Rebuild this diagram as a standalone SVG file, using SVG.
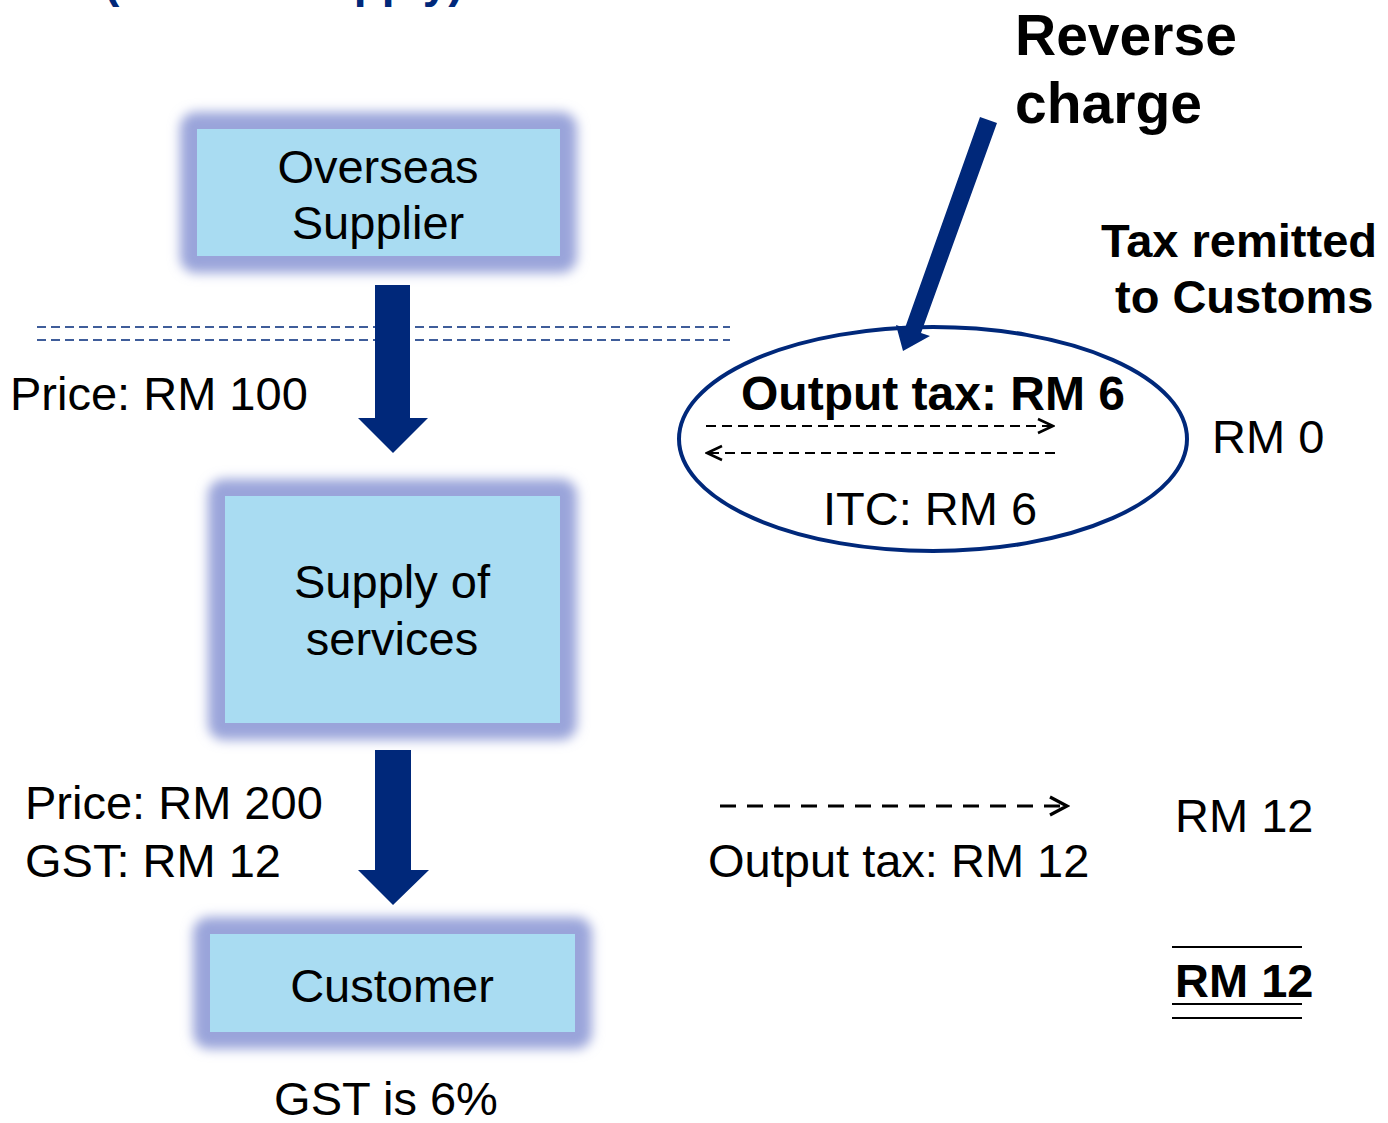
<svg xmlns="http://www.w3.org/2000/svg" width="1388" height="1123" viewBox="0 0 1388 1123">
<defs>
<filter id="glow" x="-20%" y="-20%" width="140%" height="140%"><feGaussianBlur stdDeviation="6"/></filter>
<marker id="chev" viewBox="0 0 20 20" refX="18" refY="10" markerWidth="20" markerHeight="20" markerUnits="userSpaceOnUse" orient="auto"><path d="M3,3 L18,10 L3,17" fill="none" stroke="#000" stroke-width="2.5"/></marker>
<marker id="chev2" viewBox="0 0 24 24" refX="21" refY="12" markerWidth="24" markerHeight="24" markerUnits="userSpaceOnUse" orient="auto"><path d="M4,3 L21,12 L4,21" fill="none" stroke="#000" stroke-width="3.2"/></marker>
</defs>
<style>
text{font-family:"Liberation Sans",Arial,sans-serif;fill:#000}
.r{font-size:47px}
.b{font-weight:bold}
.halo{fill:#9AA4DA;filter:url(#glow)}
.box{fill:#A9DCF2}
.big{fill:#00287A}
.dl{fill:none;stroke:#00287A;stroke-width:1.6;stroke-dasharray:9 5}
.da{fill:none;stroke:#000;stroke-width:2.2;stroke-dasharray:10 6}
.db{fill:none;stroke:#000;stroke-width:3;stroke-dasharray:16 11}
.ul{stroke:#000;stroke-width:2}
</style>
<rect width="1388" height="1123" fill="#fff"/>
<text x="104" y="-3" class="b" font-size="46" style="fill:#00287A">(Taxable supply)</text>

<g id="overseas-supplier">
<rect class="halo" x="180" y="112" width="397" height="161" rx="16"/>
<rect class="box" x="197" y="129" width="363" height="127"/>
<text class="r" x="378" y="183" text-anchor="middle">Overseas</text>
<text class="r" x="378" y="239" text-anchor="middle">Supplier</text>
</g>

<g id="supply-of-services">
<rect class="halo" x="208" y="479" width="369" height="261" rx="16"/>
<rect class="box" x="225" y="496" width="335" height="227"/>
<text class="r" x="392" y="598" text-anchor="middle">Supply of</text>
<text class="r" x="392" y="655" text-anchor="middle">services</text>
</g>

<g id="customer">
<rect class="halo" x="193" y="917" width="399" height="132" rx="16"/>
<rect class="box" x="210" y="934" width="365" height="98"/>
<text class="r" x="392" y="1002" text-anchor="middle">Customer</text>
</g>

<g id="reverse-charge-ellipse">
<ellipse cx="933" cy="439" rx="254" ry="112" fill="none" stroke="#00287A" stroke-width="4"/>
<text x="933" y="410" class="b" font-size="48" text-anchor="middle">Output tax: RM 6</text>
<text class="r" x="930" y="525" text-anchor="middle">ITC: RM 6</text>
</g>

<g id="connectors">
<line class="dl" x1="37" y1="327" x2="730" y2="327"/>
<line class="dl" x1="37" y1="340" x2="730" y2="340"/>
<path class="big" d="M375,285 H410 V418 H428 L393,453 L358,418 H375 Z"/>
<path class="big" d="M375,750 H411 V870 H429 L393,905 L358,870 H375 Z"/>
<path class="big" d="M980,117 L997,123 L921,333 L930,336 L903,351 L896,325 L905,328 Z"/>
<line class="da" x1="706" y1="426" x2="1053" y2="426" marker-end="url(#chev)"/>
<line class="da" x1="1055" y1="453" x2="707" y2="453" marker-end="url(#chev)"/>
<line class="db" x1="720" y1="806" x2="1067" y2="806" marker-end="url(#chev2)"/>
</g>

<g id="labels">
<text class="r" x="10" y="410">Price: RM 100</text>
<text class="r" x="25" y="819">Price: RM 200</text>
<text class="r" x="25" y="877">GST: RM 12</text>
<text class="r" x="386" y="1115" text-anchor="middle">GST is 6%</text>
<text x="1015" y="55" class="b" font-size="57">Reverse</text>
<text x="1015" y="123" class="b" font-size="57">charge</text>
<text x="1101" y="257" class="b" font-size="47">Tax remitted</text>
<text x="1115" y="313" class="b" font-size="47">to Customs</text>
<text class="r" x="1212" y="453">RM 0</text>
<text class="r" x="708" y="877">Output tax: RM 12</text>
<text class="r" x="1175" y="832">RM 12</text>
<line class="ul" x1="1172" y1="947" x2="1302" y2="947"/>
<text x="1175" y="997" class="b" font-size="47">RM 12</text>
<line class="ul" x1="1172" y1="1004" x2="1302" y2="1004"/>
<line class="ul" x1="1172" y1="1018" x2="1302" y2="1018"/>
</g>
</svg>
